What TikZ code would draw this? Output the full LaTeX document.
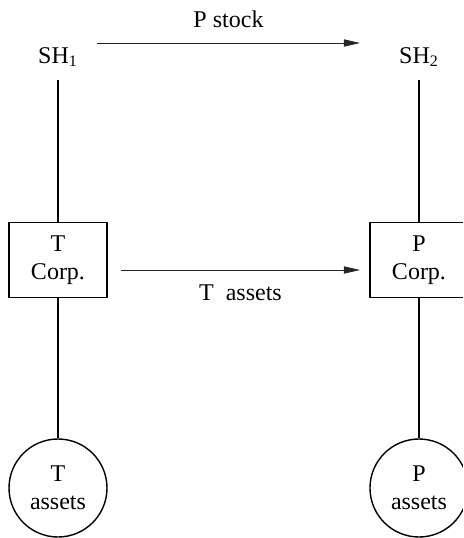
\documentclass[tikz,border=0pt]{standalone}
\usepackage{fontspec}
\setmainfont{Liberation Serif}
\usetikzlibrary{arrows.meta, positioning}
\def\colsep{361}

\begin{document}
\begin{tikzpicture}[x=0.5pt,y=-0.5pt,font=\fontsize{12}{13.8}\selectfont]
    \tikzstyle{holder}=[inner sep=0pt, anchor=base]
    \tikzstyle{corp}=[rectangle, draw=black, line width=0.7pt, minimum width=49pt, minimum height=37.5pt, inner sep=0pt, align=center]
    \tikzstyle{pool}=[circle, draw=black, line width=0.7pt, minimum size=49pt, inner sep=0pt, align=center]
    \tikzstyle{link}=[draw=black, line width=0.65pt]
    \tikzstyle{transfer}=[-{Triangle[length=8pt,width=3.6pt]}, draw=black!85, line width=0.4pt]
    \clip (0,0) rectangle (463,538);

    % Draw the two columns: shareholders, corporation, assets
    \foreach \n/\x/\firm in {1/58/T, 2/419/P} {
        \node[holder] (SH-\n) at (\x,63) {SH\textsubscript{\n}};
        \node[corp] (C-\n) at (\x,260) {\firm\\Corp.};
        \node[pool] (A-\n) at (\x,488) {\firm\\assets};
    }

    % Connect each column from top to bottom
    \foreach \n in {1,2} {
        \draw[link, shorten <=8.5pt] (SH-\n.base) -- (C-\n);
        \draw[link] (C-\n) -- (A-\n);
    }

    % Transfers between the columns
    \draw[transfer] ([shift={(19.5pt,10pt)}]SH-1.base) -- node[above=4pt] {P stock} ([shift={(-29.5pt,10pt)}]SH-2.base);
    \draw[transfer] ([shift={(31.5pt,-5pt)}]C-1.center) -- node[below=4.1pt] {T\ \ assets} ([shift={(-29.5pt,-5pt)}]C-2.center);
\end{tikzpicture}
\end{document}
